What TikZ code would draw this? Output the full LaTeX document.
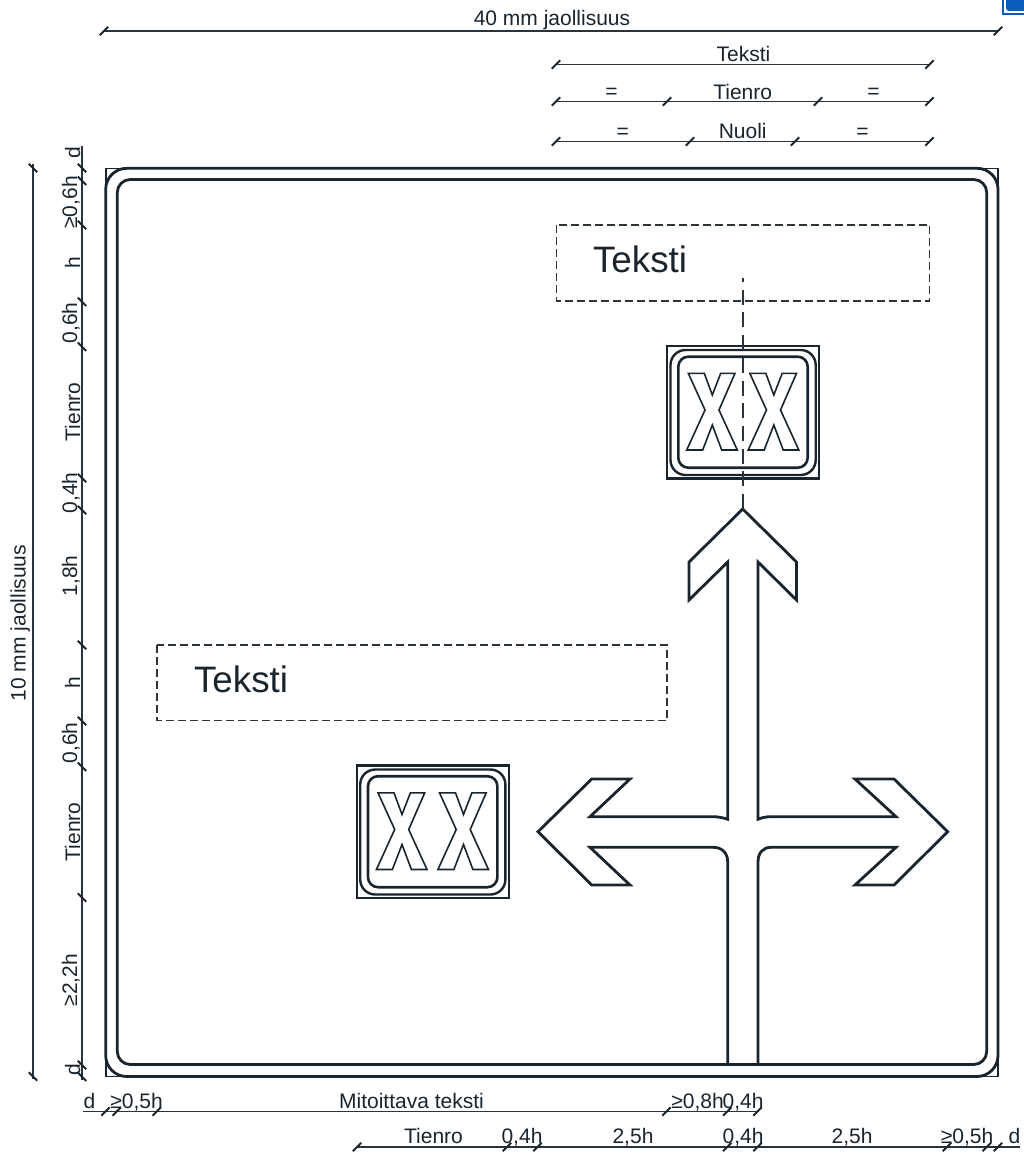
\documentclass[tikz,border=0pt]{standalone}
\usepackage{fontspec}
\setmainfont{Liberation Sans}
\definecolor{ink}{HTML}{1A242C}
\definecolor{dimink}{HTML}{2A333A}
\definecolor{bluemark}{HTML}{0A5CBE}
\tikzset{
  dimline/.style={draw=dimink,line width=1.5pt},
  tickh/.style={draw=ink,line width=1.9pt},
  lbl/.style={anchor=base,inner sep=0pt,outer sep=0pt,text=ink,font=\fontsize{21}{21}\selectfont},
  vlbl/.style={lbl,rotate=90},
  biglbl/.style={anchor=base west,inner sep=0pt,outer sep=0pt,text=ink,font=\fontsize{36.8}{37}\selectfont},
  heavy/.style={draw=ink,line width=2.8pt,line join=round},
  signline/.style={draw=ink,line width=2.4pt},
  hair/.style={draw=ink,line width=1.6pt},
  dashbox/.style={draw=dimink,line width=1.1pt,dash pattern=on 8pt off 4pt},
  centre/.style={draw=dimink,line width=1.6pt,dash pattern=on 15pt off 7.7pt,dash phase=11pt},
  xglyph/.pic={
    \draw[draw=ink,line width=1.6pt,line join=miter,fill=white]
      (21.3,27.3) -- (37.3,27.3) -- (45.3,49) -- (53.7,27.3) -- (68,27.3) -- (52,64)
      -- (70.3,104) -- (54.7,104) -- (45.3,79) -- (35.7,104) -- (19.7,104) -- (38,64) -- cycle;
  },
  routesign/.pic={
    \draw[signline] (0,0) rectangle (152,132.5);
    \draw[signline,rounded corners=15pt] (3.5,4) rectangle (148.7,129);
    \draw[draw=ink,line width=2.6pt,rounded corners=10pt] (11.3,10.7) rectangle (140.7,121.7);
    \pic at (0,0) {xglyph};
    \pic at (61.5,0) {xglyph};
  }
}
\begin{document}
\begin{tikzpicture}[x=1pt,y=-1pt]
\useasboundingbox (0,0) rectangle (1024,1153);
% blue mark at the top right corner
\fill[bluemark] (1002,0) -- (1024,0) -- (1024,15) -- (1002,15) -- cycle;
\fill[white] (1004,0) -- (1024,0) -- (1024,13) -- (1004,13) -- cycle;
\fill[bluemark,rounded corners=3pt] (1006,-5) -- (1030,-5) -- (1030,11) -- (1006,11) -- cycle;

% sign plate
\draw[hair] (105.7,168.3) rectangle (998,1076.5);
\draw[heavy,rounded corners=21pt] (105.7,168.3) rectangle (998,1076.5);
\draw[heavy,rounded corners=13pt] (117.3,179.5) rectangle (986.7,1064.5);

% text fields
\draw[dashbox] (556.5,225) rectangle (929.5,301);
\draw[dashbox] (157,645) rectangle (667,720.5);
\node[biglbl] (bigtext1) at (593,272) {Teksti};
\node[biglbl] (bigtext2) at (194,692) {Teksti};

% arrow
\draw[heavy,miter limit=10,line join=miter]
  (727.7,1064.5) -- (727.7,862)
  .. controls (727.7,853) and (722,847.3) .. (713,847.3)
  -- (590,847.3) -- (630,885) -- (591.7,885) -- (538,831.7) -- (591.7,779) -- (630,779)
  -- (590,816.7) -- (713,816.7)
  .. controls (718,816.7) and (723,817.6) .. (727.7,819.3)
  -- (727.7,562) -- (689,600) -- (689,562) -- (742.7,509) -- (796.5,562) -- (796.5,600)
  -- (758,562) -- (758,819.3)
  .. controls (762,817.6) and (766,816.7) .. (771,816.7)
  -- (896,816.7) -- (855,779) -- (894,779) -- (947.7,831.7) -- (894,885) -- (855,885)
  -- (896,847.3) -- (771,847.3)
  .. controls (763,847.3) and (758,853) .. (758,862)
  -- (758,1064.5);

% route number signs
\pic at (667,346) {routesign};
\pic at (356.7,765.5) {routesign};

% centre line
\coordinate (cl1) at (742.7,278);
\coordinate (cl2) at (742.7,509);
\draw[centre] (cl1) -- (cl2);

% top dimension lines
\coordinate (a1) at (104,31); \coordinate (a2) at (998,31);
\coordinate (b1) at (556,64.5); \coordinate (b2) at (929.5,64.5);
\coordinate (c1) at (556,101.5); \coordinate (c2) at (667,101.5);
\coordinate (c3) at (818,101.5); \coordinate (c4) at (929.5,101.5);
\coordinate (d1) at (556,141.5); \coordinate (d2) at (690,141.5);
\coordinate (d3) at (795,141.5); \coordinate (d4) at (929.5,141.5);
\draw[dimline] (a1) -- (a2);
\draw[dimline] (b1) -- (b2);
\draw[dimline] (c1) -- (c2) -- (c3) -- (c4);
\draw[dimline] (d1) -- (d2) -- (d3) -- (d4);
\node[lbl] (t40) at (552,25.5) {40 mm jaollisuus};
\node[lbl] (tteksti) at (743.5,61.7) {Teksti};
\node[lbl] (ttienro) at (742.7,99.3) {Tienro};
\node[lbl] (teq1) at (611.5,98.5) {=};
\node[lbl] (teq2) at (873.5,98.5) {=};
\node[lbl] (tnuoli) at (742.7,138.7) {Nuoli};
\node[lbl] (teq3) at (622.7,138.5) {=};
\node[lbl] (teq4) at (862.5,138.5) {=};

% bottom dimension lines
\coordinate (e0) at (83,1111.5); \coordinate (e1) at (105.5,1111.5);
\coordinate (e2) at (116.7,1111.5); \coordinate (e3) at (156.7,1111.5);
\coordinate (e4) at (666.5,1111.5); \coordinate (e5) at (727.3,1111.5);
\coordinate (e6) at (757.5,1111.5);
\coordinate (f1) at (357,1147); \coordinate (f2) at (507,1147);
\coordinate (f3) at (537.5,1147); \coordinate (f4) at (727.3,1147);
\coordinate (f5) at (757.5,1147); \coordinate (f6) at (947,1147);
\coordinate (f7) at (986.7,1147); \coordinate (f8) at (998,1147);
\coordinate (f9) at (1020,1147);
\draw[dimline] (e0) -- (e1) -- (e2) -- (e3) -- (e4) -- (e5) -- (e6);
\draw[dimline] (f1) -- (f2) -- (f3) -- (f4) -- (f5) -- (f6) -- (f7) -- (f8) -- (f9);
\node[lbl] (bd1) at (89.5,1108) {d};
\node[lbl] (bh1) at (136.5,1108) {≥0,5h};
\node[lbl] (bmit) at (411.5,1108) {Mitoittava teksti};
\node[lbl] (bh2) at (697.5,1108) {≥0,8h};
\node[lbl] (bh3) at (743,1108) {0,4h};
\node[lbl] (ct) at (433.5,1143.5) {Tienro};
\node[lbl] (ch1) at (522,1143.5) {0,4h};
\node[lbl] (ch2) at (633,1143.5) {2,5h};
\node[lbl] (ch3) at (743,1143.5) {0,4h};
\node[lbl] (ch4) at (852,1143.5) {2,5h};
\node[lbl] (ch5) at (967,1143.5) {≥0,5h};
\node[lbl] (cd) at (1014.5,1143.5) {d};

% left dimension lines
\coordinate (g1) at (33,168); \coordinate (g2) at (33,1076.5);
\coordinate (g0) at (33,164); \coordinate (g3) at (33,1079);
\draw[dimline] (g0) -- (g3);
\node[vlbl] (vmm) at (25.5,623) {10 mm jaollisuus};
\coordinate (h0) at (82,146); \coordinate (h1) at (82,168);
\coordinate (h2) at (82,180.7); \coordinate (h3) at (82,225);
\coordinate (h4) at (82,301.7); \coordinate (h5) at (82,346.7);
\coordinate (h6) at (82,478); \coordinate (h7) at (82,510);
\coordinate (h8) at (82,645); \coordinate (h9) at (82,721);
\coordinate (h10) at (82,766.7); \coordinate (h11) at (82,897.5);
\coordinate (h12) at (82,1065); \coordinate (h13) at (82,1076.7);
\coordinate (h14) at (82,1080);
\draw[dimline] (h0) -- (h1) -- (h2) -- (h3) -- (h4) -- (h5) -- (h6) -- (h7) -- (h8)
  -- (h9) -- (h10) -- (h11) -- (h12) -- (h13) -- (h14);
\node[vlbl] (vd1) at (80,153) {d};
\node[vlbl] (v1) at (77,202.5) {≥0,6h};
\node[vlbl] (v2) at (80,263) {h};
\node[vlbl] (v3) at (77,323) {0,6h};
\node[vlbl] (v4) at (80,412) {Tienro};
\node[vlbl] (v5) at (77,493) {0,4h};
\node[vlbl] (v6) at (77,576) {1,8h};
\node[vlbl] (v7) at (80,683) {h};
\node[vlbl] (v8) at (77,743) {0,6h};
\node[vlbl] (v9) at (80,832) {Tienro};
\node[vlbl] (v10) at (77,980) {≥2,2h};
\node[vlbl] (vd2) at (80,1070) {d};

% tick marks
\foreach \c in {a1,a2,b1,b2,c1,c2,c3,c4,d1,d2,d3,d4,e1,e2,e3,e4,e5,e6,f1,f2,f3,f4,f5,f6,f7,f8}
  \draw[tickh] (\c) ++(-4.2,4.2) -- ++(8.4,-8.4);
\foreach \c in {g1,g2,h1,h2,h3,h4,h5,h6,h7,h8,h9,h10,h11,h12,h13}
  \draw[tickh] (\c) ++(-4.2,-4.2) -- ++(8.4,8.4);
\end{tikzpicture}
\end{document}
